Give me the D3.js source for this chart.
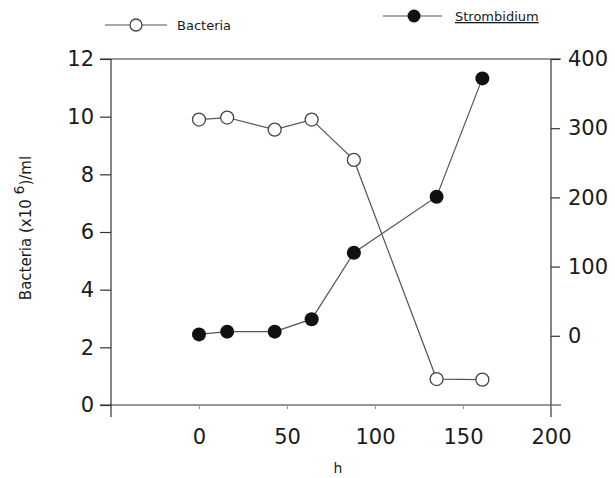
<!DOCTYPE html>
<html>
<head>
<meta charset="utf-8">
<script src="https://cdn.jsdelivr.net/npm/d3@7"></script>
<style>
  body { margin: 0; background: #fff; }
  svg { display: block; font-family: "DejaVu Sans", sans-serif; }
</style>
</head>
<body>
<svg id="chart" width="615" height="478"></svg>
<script>
// time (h) of each sample
const hours = [0, 16, 43, 64, 88, 135, 161];
// bacteria, x10^6 per ml (left axis)
const bacteria = [9.9, 9.97, 9.55, 9.9, 8.5, 0.9, 0.88];
// Strombidium counts (right axis)
const strombidium = [2, 6, 6, 24, 120, 201, 372];

const xTicks = [0, 50, 100, 150, 200];
const yLeftTicks = [0, 2, 4, 6, 8, 10, 12];
const yRightTicks = [0, 100, 200, 300, 400];

const svg = d3.select('#chart');
const margin = {top: 59, right: 64, bottom: 73, left: 111};
const width = 615 - margin.left - margin.right;
const height = 478 - margin.top - margin.bottom;
const ink = '#1a1a1a';
const lineColor = '#555';

const x = d3.scaleLinear().domain([-50, 200]).range([0, width]);
const yL = d3.scaleLinear().domain([0, 12]).range([height, 0]);
const yR = d3.scaleLinear().domain([-100, 400]).range([height, 0]);

const g = svg.append('g')
  .attr('transform', `translate(${margin.left},${margin.top})`);

// frame lines: top and bottom run past the axes, sides run below
const frame = g.append('g').attr('stroke', '#333').attr('stroke-width', 1.2);
frame.append('line')
  .attr('x1', x(-50) - 11).attr('x2', x(200) + 10)
  .attr('y1', yL(12)).attr('y2', yL(12));
frame.append('line')
  .attr('x1', x(-50) - 11).attr('x2', x(200) + 10)
  .attr('y1', yL(0)).attr('y2', yL(0));
frame.append('line')
  .attr('x1', x(-50)).attr('x2', x(-50))
  .attr('y1', yL(12)).attr('y2', yL(0) + 12);
frame.append('line')
  .attr('x1', x(200)).attr('x2', x(200))
  .attr('y1', yL(12)).attr('y2', yL(0) + 12);

function styleAxis(sel) {
  sel.select('.domain').remove();
  sel.selectAll('.tick line').attr('stroke', '#333').attr('stroke-width', 1.2);
  sel.selectAll('.tick text')
    .attr('fill', ink)
    .attr('font-size', 21)
    .attr('font-family', '"DejaVu Sans", sans-serif');
}

g.append('g')
  .call(d3.axisLeft(yL).tickValues(yLeftTicks).tickSize(11).tickPadding(6))
  .call(styleAxis);

g.append('g')
  .attr('transform', `translate(${width},0)`)
  .call(d3.axisRight(yR).tickValues(yRightTicks).tickSize(9).tickPadding(8))
  .call(styleAxis);

g.append('g')
  .attr('transform', `translate(0,${height})`)
  .call(d3.axisBottom(x).tickValues(xTicks).tickSize(4).tickPadding(20))
  .call(styleAxis)
  .call(sel => sel.selectAll('.tick line').attr('stroke', '#999').attr('stroke-width', 1));

// series
const bactPts = hours.map((h, i) => ({h, v: bacteria[i]}));
const stromPts = hours.map((h, i) => ({h, v: strombidium[i]}));

g.append('path')
  .datum(bactPts)
  .attr('fill', 'none')
  .attr('stroke', lineColor)
  .attr('stroke-width', 1.2)
  .attr('d', d3.line().x(d => x(d.h)).y(d => yL(d.v)));

g.append('path')
  .datum(stromPts)
  .attr('fill', 'none')
  .attr('stroke', lineColor)
  .attr('stroke-width', 1.2)
  .attr('d', d3.line().x(d => x(d.h)).y(d => yR(d.v)));

g.selectAll('circle.bact')
  .data(bactPts)
  .enter().append('circle')
  .attr('class', 'bact')
  .attr('cx', d => x(d.h))
  .attr('cy', d => yL(d.v))
  .attr('r', 6.5)
  .attr('fill', '#fff')
  .attr('stroke', '#444')
  .attr('stroke-width', 1.3);

g.selectAll('circle.strom')
  .data(stromPts)
  .enter().append('circle')
  .attr('class', 'strom')
  .attr('cx', d => x(d.h))
  .attr('cy', d => yR(d.v))
  .attr('r', 7)
  .attr('fill', '#111');

// axis titles
svg.append('text')
  .attr('x', 338).attr('y', 473)
  .attr('text-anchor', 'middle')
  .attr('font-size', 14)
  .attr('fill', ink)
  .text('h');

const yTitle = svg.append('text')
  .attr('transform', 'translate(31,228) rotate(-90)')
  .attr('text-anchor', 'middle')
  .attr('font-size', 15)
  .attr('fill', ink);
yTitle.append('tspan').text('Bacteria  (x10 ');
yTitle.append('tspan').attr('dy', -7).attr('font-size', 14).text('6');
yTitle.append('tspan').attr('dy', 7).text(')/ml');

// legend
const legend = svg.append('g');
legend.append('line')
  .attr('x1', 105).attr('x2', 167).attr('y1', 25).attr('y2', 25)
  .attr('stroke', lineColor).attr('stroke-width', 1.2);
legend.append('circle')
  .attr('cx', 136).attr('cy', 25).attr('r', 6)
  .attr('fill', '#fff').attr('stroke', '#444').attr('stroke-width', 1.3);
legend.append('text')
  .attr('x', 177).attr('y', 30)
  .attr('font-size', 13).attr('fill', ink)
  .text('Bacteria');

legend.append('line')
  .attr('x1', 383).attr('x2', 442).attr('y1', 16).attr('y2', 16)
  .attr('stroke', lineColor).attr('stroke-width', 1.2);
legend.append('circle')
  .attr('cx', 414).attr('cy', 16).attr('r', 6.5)
  .attr('fill', '#111');
legend.append('text')
  .attr('x', 455).attr('y', 21)
  .attr('font-size', 13).attr('fill', ink)
  .attr('text-decoration', 'underline')
  .text('Strombidium');
</script>
</body>
</html>
